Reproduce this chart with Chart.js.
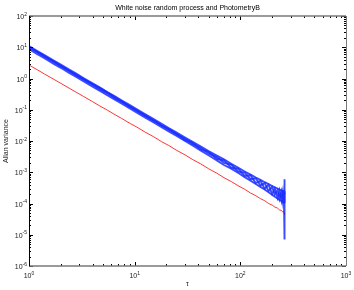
<!DOCTYPE html>
<html>
<head>
<meta charset="utf-8">
<script src="https://cdn.jsdelivr.net/npm/chart.js@4.4.0/dist/chart.umd.min.js"></script>
<style>
html, body { margin: 0; padding: 0; background: #fff; }
</style>
</head>
<body>
<canvas id="myChart" width="354" height="290"></canvas>
<script>
const chartTitle = 'White noise random process and PhotometryB';
const xTitle = 'τ';
const yTitle = 'Allan variance';

const xDecades = [1, 10, 100, 1000];
const yDecades = [1e-6, 1e-5, 1e-4, 1e-3, 1e-2, 1e-1, 1, 10, 100];

const tau = [1, 1.2, 1.4, 1.7, 2, 2.4, 2.8, 3.3, 4, 4.7, 5.5, 6.5, 7.5, 9, 10.5, 12.5, 15, 18, 21, 25,
    30, 35, 42, 50, 60, 70, 82, 95, 110, 125, 140, 155, 170, 185, 200, 212, 225, 235, 245, 252,
    256, 259, 261, 262, 263];

const blueA = [9.8, 6.9, 5.0, 3.45, 2.46, 1.74, 1.26, 0.92, 0.63, 0.45, 0.335, 0.236, 0.181, 0.124, 0.093, 0.0648, 0.0458, 0.0313, 0.0236, 0.0163,
    0.0118, 0.0081, 0.0062, 0.0040, 0.00305, 0.0020, 0.00175, 0.00105, 0.00098, 0.0006, 0.00064, 0.00038, 0.00045, 0.00025, 0.00034, 0.00019, 0.00027, 0.00014, 0.00024, 0.00012,
    0.00023, 0.00011, 0.00022, 0.0006, 0.00015];
const blueB = [11.0, 7.6, 5.6, 3.8, 2.78, 1.92, 1.43, 1.02, 0.70, 0.51, 0.37, 0.268, 0.2, 0.141, 0.103, 0.073, 0.051, 0.0357, 0.026, 0.0186,
    0.0129, 0.0096, 0.0068, 0.0048, 0.0034, 0.0026, 0.00185, 0.0014, 0.00106, 0.00084, 0.00068, 0.00057, 0.00048, 0.00042, 0.00036, 0.00033, 0.0003, 0.00028, 0.00026, 0.00025,
    0.00024, 0.00025, 0.00023, 0.00022, 0.0002];
const blueC = [8.7, 6.0, 4.45, 3.0, 2.2, 1.52, 1.12, 0.81, 0.55, 0.40, 0.29, 0.21, 0.158, 0.110, 0.081, 0.057, 0.040, 0.0279, 0.0204, 0.0145,
    0.0100, 0.0073, 0.0050, 0.0035, 0.0024, 0.0017, 0.0013, 0.00096, 0.0007, 0.00054, 0.00042, 0.00034, 0.00028, 0.00023, 0.00019, 0.000165, 0.000145, 0.00013, 0.00012, 0.000112,
    0.000108, 0.000105, 0.0001, 0.000098, 0.000007];
const blueD = [10.2, 7.1, 5.2, 3.55, 2.55, 1.78, 1.31, 0.95, 0.655, 0.49, 0.36, 0.25, 0.185, 0.128, 0.094, 0.0665, 0.0462, 0.032, 0.0238, 0.0167,
    0.0107, 0.0090, 0.0055, 0.0045, 0.0027, 0.0024, 0.0014, 0.0013, 0.00076, 0.0008, 0.00045, 0.00053, 0.0003, 0.0004, 0.0002, 0.0003, 0.00015, 0.00026, 0.000125, 0.00023,
    0.000112, 0.00022, 0.000105, 0.00021, 0.00014];
const red = [2.7, 1.9, 1.39, 0.96, 0.70, 0.49, 0.362, 0.264, 0.181, 0.131, 0.0975, 0.0698, 0.0532, 0.0368, 0.0278, 0.0194, 0.0139, 0.0095, 0.0072, 0.00502,
    0.00359, 0.0026, 0.00187, 0.0013, 0.00093, 0.00067, 0.000505, 0.000372, 0.000285, 0.000216, 0.000178, 0.000143, 0.000123, 0.0001, 0.000089, 0.000077, 0.000071, 0.000062, 0.00006, 0.000054,
    0.000056, 0.00005, 0.000049, 0.000045, 0.000044];

const fontFamily = '"Liberation Sans", Arial, Helvetica, sans-serif';

function exponent(v) {
    return String(Math.round(Math.log10(v)));
}

function toPoints(arr) {
    return tau.map((t, i) => ({ x: t, y: arr[i] }));
}

function blueSet(arr) {
    return {
        data: toPoints(arr),
        borderColor: 'rgba(25,45,255,0.85)',
        borderWidth: 1.9,
        pointRadius: 0,
        tension: 0
    };
}

// draws "10" with a raised exponent; align: 'center' or 'right'
function drawPow(ctx, v, x, y, align) {
    const base = '10';
    const exp = exponent(v);
    ctx.font = '7px ' + fontFamily;
    const wb = ctx.measureText(base).width;
    ctx.font = '5px ' + fontFamily;
    const we = ctx.measureText(exp).width;
    const w = wb + we;
    const left = align === 'right' ? x - w : x - w / 2;
    ctx.textAlign = 'left';
    ctx.textBaseline = 'alphabetic';
    ctx.font = '7px ' + fontFamily;
    ctx.fillText(base, left, y);
    ctx.font = '5px ' + fontFamily;
    ctx.fillText(exp, left + wb, y - 3.5);
}

// title, tick labels + inner MATLAB style ticks and box
const framePlugin = {
    id: 'frame',
    afterDraw(chart) {
        const { ctx, chartArea: a, scales: { x, y } } = chart;
        ctx.save();
        ctx.strokeStyle = '#000';
        ctx.lineWidth = 1;
        ctx.beginPath();
        for (let d = 0; d < xDecades.length; d++) {
            for (let m = 1; m < 10; m++) {
                const v = xDecades[d] * m;
                if (v > xDecades[xDecades.length - 1]) break;
                const px = Math.round(x.getPixelForValue(v)) + 0.5;
                const len = m === 1 ? 4 : 2;
                ctx.moveTo(px, a.bottom); ctx.lineTo(px, a.bottom - len);
                ctx.moveTo(px, a.top); ctx.lineTo(px, a.top + len);
            }
        }
        for (let d = 0; d < yDecades.length; d++) {
            for (let m = 1; m < 10; m++) {
                const v = yDecades[d] * m;
                if (v > yDecades[yDecades.length - 1]) break;
                const py = Math.round(y.getPixelForValue(v)) + 0.5;
                const len = m === 1 ? 4 : 2;
                ctx.moveTo(a.left, py); ctx.lineTo(a.left + len, py);
                ctx.moveTo(a.right, py); ctx.lineTo(a.right - len, py);
            }
        }
        ctx.stroke();

        ctx.strokeStyle = '#7a7a7a';
        ctx.lineWidth = 1.5;
        ctx.beginPath();
        ctx.moveTo(a.left, a.top); ctx.lineTo(a.right, a.top);
        ctx.moveTo(a.left, a.bottom); ctx.lineTo(a.right, a.bottom);
        ctx.stroke();
        ctx.lineWidth = 1;
        ctx.beginPath();
        ctx.moveTo(a.right + 0.5, a.top); ctx.lineTo(a.right + 0.5, a.bottom);
        ctx.stroke();
        ctx.strokeStyle = '#000';
        ctx.beginPath();
        ctx.moveTo(a.left + 0.5, a.top); ctx.lineTo(a.left + 0.5, a.bottom);
        ctx.stroke();

        ctx.fillStyle = '#222';
        xDecades.forEach(v => drawPow(ctx, v, x.getPixelForValue(v), a.bottom + 12, 'center'));
        yDecades.forEach(v => drawPow(ctx, v, a.left - 2, y.getPixelForValue(v) + 3, 'right'));

        ctx.fillStyle = '#000';
        ctx.font = '7px ' + fontFamily;
        ctx.textAlign = 'center';
        ctx.textBaseline = 'middle';
        ctx.fillText(chartTitle, (a.left + a.right) / 2, 8);
        ctx.restore();
    }
};

new Chart(document.getElementById('myChart'), {
    type: 'line',
    data: {
        datasets: [blueSet(blueA), blueSet(blueB), blueSet(blueC), blueSet(blueD), {
            data: toPoints(red),
            borderColor: 'rgb(255,0,0)',
            borderWidth: 0.8,
            pointRadius: 0,
            tension: 0
        }]
    },
    options: {
        responsive: false,
        animation: false,
        layout: { padding: { top: 16, right: 8, left: 0, bottom: 0 } },
        plugins: { legend: { display: false }, tooltip: { enabled: false } },
        scales: {
            x: {
                type: 'logarithmic',
                min: 1,
                max: 1000,
                grid: { display: false, drawTicks: false },
                border: { display: false },
                afterBuildTicks: s => { s.ticks = xDecades.map(v => ({ value: v })); },
                afterFit: s => { s.height = 24; },
                ticks: { display: false },
                title: {
                    display: true,
                    text: xTitle,
                    color: '#222',
                    padding: { top: 0, bottom: 2 },
                    font: { size: 7, family: fontFamily }
                }
            },
            y: {
                type: 'logarithmic',
                min: 1e-6,
                max: 100,
                grid: { display: false, drawTicks: false },
                border: { display: false },
                afterBuildTicks: s => { s.ticks = yDecades.map(v => ({ value: v })); },
                afterFit: s => { s.width = 29; },
                ticks: { display: false },
                title: {
                    display: true,
                    text: yTitle,
                    color: '#222',
                    padding: { top: 2, bottom: 0 },
                    font: { size: 7, family: fontFamily }
                }
            }
        }
    },
    plugins: [framePlugin]
});
</script>
</body>
</html>
